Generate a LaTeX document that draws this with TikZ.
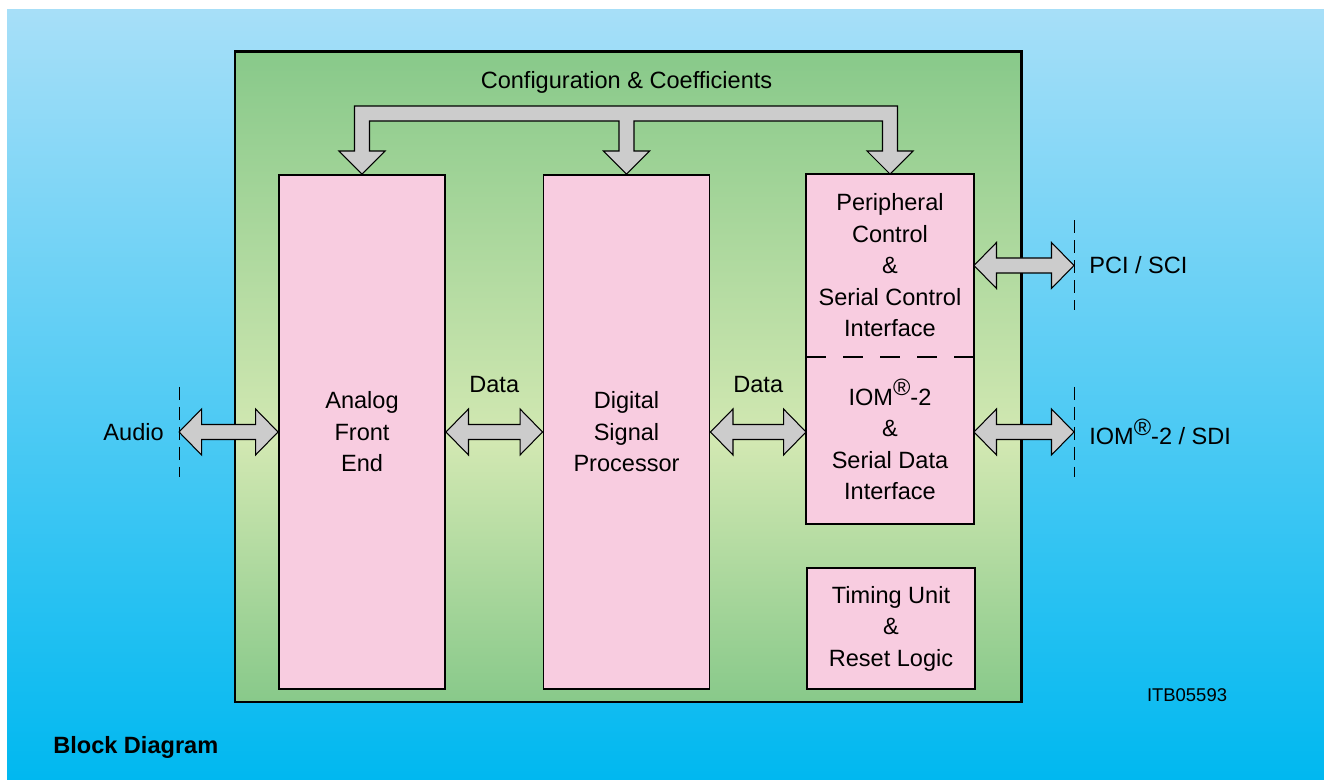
\documentclass[tikz,border=0pt]{standalone}
\usepackage{fontspec}
\setmainfont{Liberation Sans}
\usetikzlibrary{positioning,calc}

\definecolor{chipgreen}{HTML}{88C98A}
\definecolor{chiplight}{HTML}{D2E8B2}
\definecolor{skytop}{HTML}{A7DFF8}
\definecolor{skybottom}{HTML}{00B8F0}
\definecolor{blockpink}{HTML}{F8CCE0}
\definecolor{busgray}{HTML}{CCCCCC}

\pgfdeclareverticalshading{chipshade}{100bp}{color(0bp)=(chipgreen); color(25bp)=(chipgreen); color(45bp)=(chiplight); color(75bp)=(chipgreen); color(100bp)=(chipgreen)}

\tikzset{
    chip/.style={draw,line width=1.7pt,shade,shading=chipshade,minimum width=15.72cm,minimum height=13cm},
    block/.style={draw,line width=1.1pt,fill=blockpink,anchor=center,align=center,minimum width=3.32cm,
        font=\fontsize{13.4pt}{17.9pt}\selectfont},
    halfblock/.style={block,draw=none},
    bus/.style={draw,line width=0.6pt,fill=busgray,line join=miter},
    port/.style={line width=0.5pt,dash pattern=on 0.26cm off 0.14cm},
    txt/.style={inner sep=0pt,font=\fontsize{13.4pt}{17.9pt}\selectfont},
}

%% double headed data arrow from #1 to #2
\newcommand{\dataarrow}[2]{%
    \draw[bus] (#1) -- ++(0.45,0.46) -- ++(0,-0.31) -- ($(#2)+(-0.45,0.15)$) -- ++(0,0.31) -- (#2)
        -- ++(-0.45,-0.46) -- ++(0,0.31) -- ($(#1)+(0.45,-0.15)$) -- ++(0,-0.31) -- cycle;}

\begin{document}
\begin{tikzpicture}
        \useasboundingbox (0,0) rectangle (26.48,15.6);
        %% background
        \shade[top color=skytop,bottom color=skybottom] (0.14,0) rectangle (26.48,15.4);
        \node[chip] (chip) at (12.56,8.06) {};
        %% blocks
        \node[block,minimum height=10.28cm] (afe) at (7.24,6.96) {Analog\\Front\\End};
        \node[block,minimum height=10.28cm] (dsp) at (12.53,6.96) {Digital\\Signal\\Processor};
        \node[halfblock,minimum height=3.62cm] (pci) at (17.80,10.29) {Peripheral\\Control\\\&\\Serial Control\\Interface};
        \node[halfblock,minimum height=3.34cm] (iom) at (17.80,6.81) {IOM\raisebox{0.4em}{\textregistered}-2\\\&\\Serial Data\\Interface};
        \draw[line width=1.1pt] (pci.north west) rectangle (iom.south east);
        \draw[line width=1.1pt,dash pattern=on 0.4cm off 0.34cm] (pci.south west) -- (pci.south east);
        \node[block,minimum width=3.36cm,minimum height=2.42cm] (timing) at (17.82,3.03) {Timing Unit\\\&\\Reset Logic};
        %% configuration bus
        \draw[bus] (afe.north) -- ++(0.46,0.46) -- ++(-0.31,0) -- ++(0,0.60) -- ($(dsp.north)+(-0.15,1.06)$)
            -- ++(0,-0.60) -- ++(-0.31,0) -- (dsp.north) -- ++(0.46,0.46) -- ++(-0.31,0) -- ++(0,0.60)
            -- ($(pci.north)+(-0.15,1.06)$) -- ++(0,-0.60) -- ++(-0.31,0) -- (pci.north) -- ++(0.46,0.46)
            -- ++(-0.31,0) -- ++(0,0.90) -- ($(afe.north)+(-0.15,1.36)$) -- ++(0,-0.90) -- ++(-0.31,0) -- cycle;
        \node[txt] (cfglbl) at ($(dsp.north)+(0,1.84)$) {Configuration \& Coefficients};
        %% ports
        \coordinate[left=1.98cm of afe.west] (audioport);
        \coordinate[right=2cm of pci.east] (pciport);
        \coordinate (iomport) at (pciport |- dsp.east);
        \draw[port] ($(audioport)+(0,0.9)$) -- ($(audioport)+(0,-0.9)$);
        \draw[port] ($(pciport)+(0,0.9)$) -- ($(pciport)+(0,-0.9)$);
        \draw[port] ($(iomport)+(0,0.9)$) -- ($(iomport)+(0,-0.9)$);
        %% data arrows
        \dataarrow{audioport}{afe.west}
        \dataarrow{afe.east}{dsp.west}
        \dataarrow{dsp.east}{iom.west |- dsp.east}
        \dataarrow{pci.east}{pciport}
        \dataarrow{iom.east |- dsp.east}{iomport}
        \node[txt] (data1) at ($(afe.east)!0.5!(dsp.west)+(0,0.94)$) {Data};
        \node[txt] (data2) at ($(dsp.east)!0.5!(iom.west |- dsp.east)+(0,0.94)$) {Data};
        %% labels
        \node[txt,left=0.3cm of audioport] (audiolbl) {Audio};
        \node[txt,right=0.3cm of pciport] (pcilbl) {PCI / SCI};
        \node[txt,right=0.3cm of iomport] (iomlbl) {IOM\raisebox{0.4em}{\textregistered}-2 / SDI};
        \node[txt,font=\fontsize{10.5pt}{12pt}\selectfont] (itb) at (23.74,1.70) {ITB05593};
        \node[txt,anchor=west,font=\fontsize{13.4pt}{16pt}\selectfont\bfseries] (title) at (1.06,0.66) {Block Diagram};
    \end{tikzpicture}
\end{document}
